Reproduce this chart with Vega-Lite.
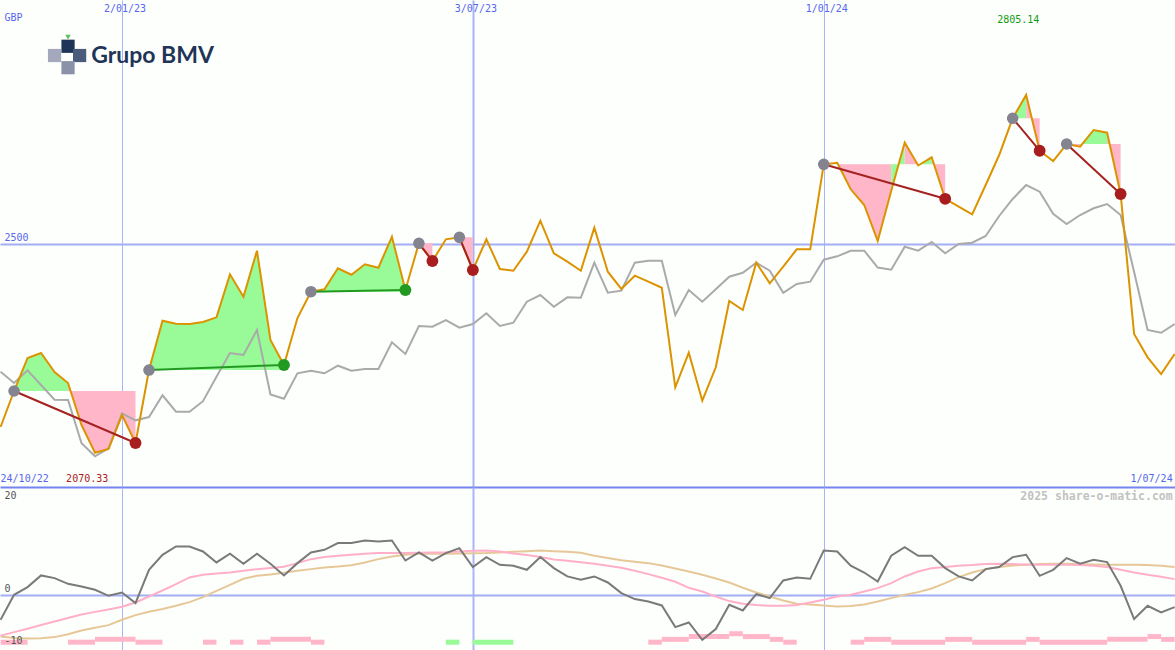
{
  "$schema": "https://vega.github.io/schema/vega-lite/v6.json",
  "padding": 0,
  "background": "#fdfffd",
  "spacing": 0,
  "bounds": "flush",
  "config": {
    "view": {"stroke": null},
    "axis": {"labels": false, "ticks": false, "domain": false, "grid": false},
    "text": {"font": "DejaVu Sans Mono", "fontSize": 10}
  },
  "datasets": {
    "w": [
      {"d":"2022-10-31","p":2123.2,"r":2236.8,"o":-4.75,"s":-7.8,"t":-7.93},
      {"d":"2022-11-07","p":2197.1,"r":2213.5,"o":0,"s":-7.1,"t":-8.2},
      {"d":"2022-11-14","p":2264.9,"r":2239.6,"o":1.46,"s":-6.45,"t":-8.3},
      {"d":"2022-11-21","p":2275.1,"r":2209.4,"o":3.68,"s":-5.75,"t":-8.25},
      {"d":"2022-11-28","p":2236.1,"r":2179.3,"o":3.17,"s":-5.07,"t":-8.05},
      {"d":"2022-12-05","p":2213.5,"r":2178.6,"o":2.09,"s":-4.4,"t":-7.5},
      {"d":"2022-12-12","p":2127.3,"r":2089.7,"o":1.58,"s":-3.74,"t":-6.78},
      {"d":"2022-12-19","p":2070.33,"r":2063.0,"o":0.95,"s":-3.25,"t":-6.25},
      {"d":"2022-12-26","p":2078.0,"r":2079.5,"o":-0.19,"s":-2.79,"t":-5.77},
      {"d":"2023-01-02","p":2147.8,"r":2151.3,"o":0.44,"s":-2.28,"t":-4.75},
      {"d":"2023-01-09","p":2090.3,"r":2136.9,"o":-1.58,"s":-1.46,"t":-3.87},
      {"d":"2023-01-16","p":2240.2,"r":2143.7,"o":4.75,"s":-0.32,"t":-3.23},
      {"d":"2023-01-23","p":2341.5,"r":2188.3,"o":7.6,"s":0.82,"t":-2.72},
      {"d":"2023-01-30","p":2335.3,"r":2154.6,"o":9.19,"s":2.03,"t":-2.09},
      {"d":"2023-02-06","p":2334.7,"r":2154.6,"o":9.19,"s":3.3,"t":-1.39},
      {"d":"2023-02-13","p":2338.8,"r":2176.2,"o":8.24,"s":3.8,"t":-0.44},
      {"d":"2023-02-20","p":2348.4,"r":2226.5,"o":6.15,"s":4.05,"t":0.76},
      {"d":"2023-02-27","p":2436.7,"r":2275.1,"o":7.8,"s":4.24,"t":1.9},
      {"d":"2023-03-06","p":2390.8,"r":2271.0,"o":5.9,"s":4.56,"t":3.04},
      {"d":"2023-03-13","p":2485.2,"r":2322.4,"o":7.8,"s":4.88,"t":3.61},
      {"d":"2023-03-20","p":2301.8,"r":2189.9,"o":5.9,"s":5.08,"t":3.87},
      {"d":"2023-03-27","p":2250.5,"r":2181.3,"o":3.68,"s":5.33,"t":4.18},
      {"d":"2023-04-03","p":2347.0,"r":2233.5,"o":6.02,"s":6.02,"t":4.56},
      {"d":"2023-04-10","p":2401.0,"r":2238.8,"o":8.05,"s":6.78,"t":4.88},
      {"d":"2023-04-17","p":2405.9,"r":2233.5,"o":8.56,"s":7.17,"t":5.2},
      {"d":"2023-04-24","p":2449.1,"r":2249.1,"o":9.83,"s":7.42,"t":5.39},
      {"d":"2023-05-01","p":2435.9,"r":2238.8,"o":9.83,"s":7.6,"t":5.64},
      {"d":"2023-05-08","p":2457.3,"r":2242.3,"o":10.33,"s":7.8,"t":6.15},
      {"d":"2023-05-15","p":2450.3,"r":2242.3,"o":10.14,"s":7.93,"t":6.78},
      {"d":"2023-05-22","p":2513.9,"r":2297.1,"o":10.33,"s":7.95,"t":7.29},
      {"d":"2023-05-29","p":2404.5,"r":2273.1,"o":6.52,"s":7.97,"t":7.6},
      {"d":"2023-06-05","p":2500.4,"r":2330.6,"o":8.05,"s":8.0,"t":7.8},
      {"d":"2023-06-12","p":2464.1,"r":2329.2,"o":6.52,"s":8.05,"t":7.8},
      {"d":"2023-06-19","p":2508.6,"r":2342.9,"o":7.93,"s":8.11,"t":7.8},
      {"d":"2023-06-26","p":2512.7,"r":2327.1,"o":8.88,"s":8.24,"t":7.85},
      {"d":"2023-07-03","p":2445.6,"r":2334.7,"o":5.27,"s":8.37,"t":7.9},
      {"d":"2023-07-10","p":2508.6,"r":2356.7,"o":7.17,"s":8.43,"t":7.93},
      {"d":"2023-07-17","p":2447.6,"r":2330.6,"o":5.71,"s":8.24,"t":8.05},
      {"d":"2023-07-24","p":2444.1,"r":2337.4,"o":5.52,"s":7.86,"t":8.18},
      {"d":"2023-07-31","p":2483.2,"r":2380.5,"o":4.75,"s":7.55,"t":8.3},
      {"d":"2023-08-07","p":2546.8,"r":2394.2,"o":7.17,"s":7.17,"t":8.43},
      {"d":"2023-08-14","p":2479.9,"r":2370.2,"o":5.08,"s":6.72,"t":8.3},
      {"d":"2023-08-21","p":2462.6,"r":2389.5,"o":3.49,"s":6.47,"t":8.18},
      {"d":"2023-08-28","p":2444.1,"r":2388.7,"o":2.85,"s":6.21,"t":7.99},
      {"d":"2023-09-04","p":2532.4,"r":2460.6,"o":3.49,"s":5.9,"t":7.42},
      {"d":"2023-09-11","p":2442.1,"r":2398.9,"o":2.34,"s":5.52,"t":6.98},
      {"d":"2023-09-18","p":2406.6,"r":2403.1,"o":0.32,"s":5.14,"t":6.59},
      {"d":"2023-09-25","p":2433.9,"r":2460.6,"o":-0.82,"s":4.56,"t":6.28},
      {"d":"2023-10-02","p":2421.6,"r":2464.7,"o":-1.27,"s":3.93,"t":6.02},
      {"d":"2023-10-09","p":2409.2,"r":2464.7,"o":-2.03,"s":3.23,"t":5.58},
      {"d":"2023-10-16","p":2204.7,"r":2353.2,"o":-6.15,"s":2.47,"t":5.01},
      {"d":"2023-10-23","p":2275.8,"r":2404.5,"o":-5.27,"s":1.33,"t":4.44},
      {"d":"2023-10-30","p":2177.2,"r":2380.5,"o":-8.56,"s":0.63,"t":3.8},
      {"d":"2023-11-06","p":2245.8,"r":2405.9,"o":-6.52,"s":-0.32,"t":3.1},
      {"d":"2023-11-13","p":2381.9,"r":2431.8,"o":-1.9,"s":-1.2,"t":2.34},
      {"d":"2023-11-20","p":2363.4,"r":2440.0,"o":-2.98,"s":-1.71,"t":1.33},
      {"d":"2023-11-27","p":2460.6,"r":2460.6,"o":0.13,"s":-1.96,"t":0.44},
      {"d":"2023-12-04","p":2418.3,"r":2444.1,"o":-0.63,"s":-2.09,"t":-0.32},
      {"d":"2023-12-11","p":2452.4,"r":2398.9,"o":2.72,"s":-2.09,"t":-1.08},
      {"d":"2023-12-18","p":2488.1,"r":2416.8,"o":3.3,"s":-1.96,"t":-1.71},
      {"d":"2023-12-25","p":2488.1,"r":2421.6,"o":3.04,"s":-1.46,"t":-1.84},
      {"d":"2024-01-01","p":2662.6,"r":2466.7,"o":8.43,"s":-0.95,"t":-2.03},
      {"d":"2024-01-08","p":2665.9,"r":2473.7,"o":8.24,"s":-0.32,"t":-2.22},
      {"d":"2024-01-15","p":2611.3,"r":2485.2,"o":5.52,"s":0.0,"t":-2.15},
      {"d":"2024-01-22","p":2579.1,"r":2485.2,"o":4.24,"s":0.63,"t":-1.84},
      {"d":"2024-01-29","p":2505.1,"r":2450.7,"o":2.53,"s":1.27,"t":-1.27},
      {"d":"2024-02-05","p":2607.8,"r":2446.2,"o":7.42,"s":2.22,"t":-0.63},
      {"d":"2024-02-12","p":2707.4,"r":2493.4,"o":9.07,"s":3.49,"t":0.0},
      {"d":"2024-02-19","p":2660.2,"r":2485.2,"o":7.42,"s":4.44,"t":0.51},
      {"d":"2024-02-26","p":2677.0,"r":2503.1,"o":7.42,"s":5.07,"t":1.2},
      {"d":"2024-03-04","p":2591.8,"r":2479.9,"o":5.08,"s":5.27,"t":2.22},
      {"d":"2024-03-11","p":2575.6,"r":2499.0,"o":3.49,"s":5.52,"t":3.36},
      {"d":"2024-03-18","p":2559.9,"r":2501.6,"o":2.72,"s":5.65,"t":4.24},
      {"d":"2024-03-25","p":2620.1,"r":2515.4,"o":4.88,"s":5.84,"t":4.88},
      {"d":"2024-04-01","p":2681.7,"r":2556.5,"o":5.27,"s":5.9,"t":5.27},
      {"d":"2024-04-08","p":2757.1,"r":2591.4,"o":7.17,"s":5.84,"t":5.58},
      {"d":"2024-04-15","p":2805.14,"r":2620.1,"o":7.6,"s":5.77,"t":5.71},
      {"d":"2024-04-22","p":2690.5,"r":2606.4,"o":3.61,"s":5.71,"t":5.84},
      {"d":"2024-04-29","p":2669.4,"r":2561.2,"o":4.75,"s":5.71,"t":5.9},
      {"d":"2024-05-06","p":2704.3,"r":2540.0,"o":6.98,"s":5.71,"t":5.9},
      {"d":"2024-05-13","p":2698.8,"r":2558.5,"o":5.9,"s":5.65,"t":5.84},
      {"d":"2024-05-20","p":2733.1,"r":2572.3,"o":6.66,"s":5.52,"t":5.77},
      {"d":"2024-05-27","p":2727.5,"r":2581.1,"o":6.22,"s":5.27,"t":5.71},
      {"d":"2024-06-03","p":2601.6,"r":2558.5,"o":1.71,"s":4.75,"t":5.71},
      {"d":"2024-06-10","p":2314.2,"r":2441.5,"o":-4.62,"s":4.24,"t":5.71},
      {"d":"2024-06-17","p":2266.3,"r":2322.4,"o":-2.09,"s":3.8,"t":5.65},
      {"d":"2024-06-24","p":2232.0,"r":2316.8,"o":-3.37,"s":3.42,"t":5.52},
      {"d":"2024-07-01","p":2273.1,"r":2334.7,"o":-2.34,"s":2.98,"t":5.27}
    ],
    "f": [
      {"g":"g1","res":"gain","d":"2022-11-07","p":2197.1,"b":2197.1},
      {"g":"g1","res":"gain","d":"2022-11-14","p":2264.9,"b":2197.1},
      {"g":"g1","res":"gain","d":"2022-11-21","p":2275.1,"b":2197.1},
      {"g":"g1","res":"gain","d":"2022-11-28","p":2236.1,"b":2197.1},
      {"g":"g1","res":"gain","d":"2022-12-05","p":2213.5,"b":2197.1},
      {"g":"l1","res":"loss","d":"2022-12-05","p":2213.5,"b":2197.1},
      {"g":"l1","res":"loss","d":"2022-12-12","p":2127.3,"b":2197.1},
      {"g":"l1","res":"loss","d":"2022-12-19","p":2070.33,"b":2197.1},
      {"g":"l1","res":"loss","d":"2022-12-26","p":2078.0,"b":2197.1},
      {"g":"l1","res":"loss","d":"2023-01-02","p":2147.8,"b":2197.1},
      {"g":"l1","res":"loss","d":"2023-01-09","p":2090.3,"b":2197.1},
      {"g":"g2","res":"gain","d":"2023-01-16","p":2240.2,"b":2240.2},
      {"g":"g2","res":"gain","d":"2023-01-23","p":2341.5,"b":2240.2},
      {"g":"g2","res":"gain","d":"2023-01-30","p":2335.3,"b":2240.2},
      {"g":"g2","res":"gain","d":"2023-02-06","p":2334.7,"b":2240.2},
      {"g":"g2","res":"gain","d":"2023-02-13","p":2338.8,"b":2240.2},
      {"g":"g2","res":"gain","d":"2023-02-20","p":2348.4,"b":2240.2},
      {"g":"g2","res":"gain","d":"2023-02-27","p":2436.7,"b":2240.2},
      {"g":"g2","res":"gain","d":"2023-03-06","p":2390.8,"b":2240.2},
      {"g":"g2","res":"gain","d":"2023-03-13","p":2485.2,"b":2240.2},
      {"g":"g2","res":"gain","d":"2023-03-20","p":2301.8,"b":2240.2},
      {"g":"g2","res":"gain","d":"2023-03-27","p":2250.5,"b":2240.2},
      {"g":"g3","res":"gain","d":"2023-04-10","p":2401.0,"b":2401.0},
      {"g":"g3","res":"gain","d":"2023-04-17","p":2405.9,"b":2401.0},
      {"g":"g3","res":"gain","d":"2023-04-24","p":2449.1,"b":2401.0},
      {"g":"g3","res":"gain","d":"2023-05-01","p":2435.9,"b":2401.0},
      {"g":"g3","res":"gain","d":"2023-05-08","p":2457.3,"b":2401.0},
      {"g":"g3","res":"gain","d":"2023-05-15","p":2450.3,"b":2401.0},
      {"g":"g3","res":"gain","d":"2023-05-22","p":2513.9,"b":2401.0},
      {"g":"g3","res":"gain","d":"2023-05-29","p":2404.5,"b":2401.0},
      {"g":"l2","res":"loss","d":"2023-06-05","p":2500.4,"b":2500.4},
      {"g":"l2","res":"loss","d":"2023-06-12","p":2464.1,"b":2500.4},
      {"g":"l3","res":"loss","d":"2023-06-26","p":2512.7,"b":2512.7},
      {"g":"l3","res":"loss","d":"2023-07-03","p":2445.6,"b":2512.7},
      {"g":"g4","res":"gain","d":"2024-01-01","p":2662.6,"b":2662.6},
      {"g":"g4","res":"gain","d":"2024-01-08","p":2665.9,"b":2662.6},
      {"g":"l4","res":"loss","d":"2024-01-08","p":2665.9,"b":2662.6},
      {"g":"l4","res":"loss","d":"2024-01-15","p":2611.3,"b":2662.6},
      {"g":"l4","res":"loss","d":"2024-01-22","p":2579.1,"b":2662.6},
      {"g":"l4","res":"loss","d":"2024-01-29","p":2505.1,"b":2662.6},
      {"g":"l4","res":"loss","d":"2024-02-05","p":2607.8,"b":2662.6},
      {"g":"g5","res":"gain","d":"2024-02-05","p":2607.8,"b":2662.6},
      {"g":"g5","res":"gain","d":"2024-02-12","p":2707.4,"b":2662.6},
      {"g":"l5","res":"loss","d":"2024-02-12","p":2707.4,"b":2662.6},
      {"g":"l5","res":"loss","d":"2024-02-19","p":2660.2,"b":2662.6},
      {"g":"g6","res":"gain","d":"2024-02-19","p":2660.2,"b":2662.6},
      {"g":"g6","res":"gain","d":"2024-02-26","p":2677.0,"b":2662.6},
      {"g":"l6","res":"loss","d":"2024-02-26","p":2677.0,"b":2662.6},
      {"g":"l6","res":"loss","d":"2024-03-04","p":2591.8,"b":2662.6},
      {"g":"g7","res":"gain","d":"2024-04-08","p":2757.1,"b":2757.1},
      {"g":"g7","res":"gain","d":"2024-04-15","p":2805.14,"b":2757.1},
      {"g":"l7","res":"loss","d":"2024-04-15","p":2805.14,"b":2757.1},
      {"g":"l7","res":"loss","d":"2024-04-22","p":2690.5,"b":2757.1},
      {"g":"l8","res":"loss","d":"2024-05-06","p":2704.3,"b":2704.3},
      {"g":"l8","res":"loss","d":"2024-05-13","p":2698.8,"b":2704.3},
      {"g":"g8","res":"gain","d":"2024-05-13","p":2698.8,"b":2704.3},
      {"g":"g8","res":"gain","d":"2024-05-20","p":2733.1,"b":2704.3},
      {"g":"g8","res":"gain","d":"2024-05-27","p":2727.5,"b":2704.3},
      {"g":"l9","res":"loss","d":"2024-05-27","p":2727.5,"b":2704.3},
      {"g":"l9","res":"loss","d":"2024-06-03","p":2601.6,"b":2704.3}
    ],
    "t": [
      {"id":1,"res":"loss","k":"entry","d":"2022-11-07","p":2197.1},
      {"id":1,"res":"loss","k":"exit","d":"2023-01-09","p":2090.3},
      {"id":2,"res":"gain","k":"entry","d":"2023-01-16","p":2240.2},
      {"id":2,"res":"gain","k":"exit","d":"2023-03-27","p":2250.5},
      {"id":3,"res":"gain","k":"entry","d":"2023-04-10","p":2401.0},
      {"id":3,"res":"gain","k":"exit","d":"2023-05-29","p":2404.5},
      {"id":4,"res":"loss","k":"entry","d":"2023-06-05","p":2500.4},
      {"id":4,"res":"loss","k":"exit","d":"2023-06-12","p":2464.1},
      {"id":5,"res":"loss","k":"entry","d":"2023-06-26","p":2512.7},
      {"id":5,"res":"loss","k":"exit","d":"2023-07-03","p":2445.6},
      {"id":6,"res":"loss","k":"entry","d":"2024-01-01","p":2662.6},
      {"id":6,"res":"loss","k":"exit","d":"2024-03-04","p":2591.8},
      {"id":7,"res":"loss","k":"entry","d":"2024-04-08","p":2757.1},
      {"id":7,"res":"loss","k":"exit","d":"2024-04-22","p":2690.5},
      {"id":8,"res":"loss","k":"entry","d":"2024-05-06","p":2704.3},
      {"id":8,"res":"loss","k":"exit","d":"2024-06-03","p":2601.6}
    ],
    "bars": [
      {"s":"2022-10-31","e":"2022-11-14","lv":1,"sg":"neg"},
      {"s":"2022-12-05","e":"2022-12-19","lv":1,"sg":"neg"},
      {"s":"2022-12-19","e":"2023-01-09","lv":2,"sg":"neg"},
      {"s":"2023-01-09","e":"2023-01-23","lv":1,"sg":"neg"},
      {"s":"2023-02-13","e":"2023-02-20","lv":1,"sg":"neg"},
      {"s":"2023-02-27","e":"2023-03-06","lv":1,"sg":"neg"},
      {"s":"2023-03-13","e":"2023-03-20","lv":1,"sg":"neg"},
      {"s":"2023-03-20","e":"2023-04-10","lv":2,"sg":"neg"},
      {"s":"2023-04-10","e":"2023-04-17","lv":1,"sg":"neg"},
      {"s":"2023-06-19","e":"2023-06-26","lv":1,"sg":"pos"},
      {"s":"2023-07-03","e":"2023-07-24","lv":1,"sg":"pos"},
      {"s":"2023-10-02","e":"2023-10-09","lv":1,"sg":"neg"},
      {"s":"2023-10-09","e":"2023-10-23","lv":2,"sg":"neg"},
      {"s":"2023-10-23","e":"2023-11-13","lv":3,"sg":"neg"},
      {"s":"2023-11-13","e":"2023-11-20","lv":4,"sg":"neg"},
      {"s":"2023-11-20","e":"2023-12-04","lv":3,"sg":"neg"},
      {"s":"2023-12-04","e":"2023-12-11","lv":2,"sg":"neg"},
      {"s":"2023-12-11","e":"2023-12-18","lv":1,"sg":"neg"},
      {"s":"2024-01-15","e":"2024-01-22","lv":1,"sg":"neg"},
      {"s":"2024-01-22","e":"2024-02-05","lv":2,"sg":"neg"},
      {"s":"2024-02-05","e":"2024-03-04","lv":1,"sg":"neg"},
      {"s":"2024-03-04","e":"2024-03-18","lv":2,"sg":"neg"},
      {"s":"2024-03-18","e":"2024-04-15","lv":1,"sg":"neg"},
      {"s":"2024-04-15","e":"2024-04-22","lv":2,"sg":"neg"},
      {"s":"2024-04-22","e":"2024-05-27","lv":1,"sg":"neg"},
      {"s":"2024-05-27","e":"2024-06-17","lv":2,"sg":"neg"},
      {"s":"2024-06-17","e":"2024-06-24","lv":3,"sg":"neg"},
      {"s":"2024-06-24","e":"2024-07-01","lv":2,"sg":"neg"}
    ]
  },
  "vconcat": [
    {
      "width": 1175,
      "height": 487,
      "encoding": {
        "x": {
          "field": "d", "type": "temporal", "title": null,
          "scale": {"type": "utc", "domain": [{"year":2022,"month":10,"date":30,"hours":17,"utc":true},{"year":2024,"month":7,"date":1,"hours":5,"utc":true}]},
          "axis": {
            "orient": "bottom",
            "values": [{"year":2023,"month":1,"date":2,"utc":true},{"year":2023,"month":7,"date":3,"utc":true},{"year":2024,"month":1,"date":1,"utc":true}],
            "grid": true, "gridColor": "#a8b4f6",
            "gridWidth": {"condition": {"test": "time(datum.value) === utc(2023, 6, 3)", "value": 2}, "value": 1},
            "domain": true, "domainColor": "#7584ee", "domainWidth": 2
          }
        }
      },
      "layer": [
        {
          "data": {"name": "f"},
          "transform": [{"filter": "datum.res === 'gain'"}],
          "mark": {"type": "area", "color": "#98fb98", "opacity": 1, "clip": true},
          "encoding": {
            "y": {"field": "p", "type": "quantitative", "title": null, "scale": {"domain": [2000, 3000]},
                  "axis": {"values": [2500], "grid": true, "gridColor": "#a3aef4", "gridWidth": 2}},
            "y2": {"field": "b"},
            "detail": {"field": "g"}
          }
        },
        {
          "data": {"name": "f"},
          "transform": [{"filter": "datum.res === 'loss'"}],
          "mark": {"type": "area", "color": "#ffb6c8", "opacity": 1, "clip": true},
          "encoding": {
            "y": {"field": "p", "type": "quantitative", "title": null, "scale": {"domain": [2000, 3000]}},
            "y2": {"field": "b"},
            "detail": {"field": "g"}
          }
        },
        {
          "data": {"name": "w"},
          "mark": {"type": "line", "color": "#aaaaaa", "strokeWidth": 2, "clip": true},
          "encoding": {"y": {"field": "r", "type": "quantitative", "title": null, "scale": {"domain": [2000, 3000]}}}
        },
        {
          "data": {"name": "w"},
          "mark": {"type": "line", "color": "#dc9300", "strokeWidth": 2, "clip": true},
          "encoding": {"y": {"field": "p", "type": "quantitative", "title": null, "scale": {"domain": [2000, 3000]}}}
        },
        {
          "data": {"name": "t"},
          "transform": [{"filter": "datum.res === 'loss'"}],
          "mark": {"type": "line", "color": "#a52222", "strokeWidth": 2, "clip": true},
          "encoding": {"y": {"field": "p", "type": "quantitative", "title": null, "scale": {"domain": [2000, 3000]}}, "detail": {"field": "id"}}
        },
        {
          "data": {"name": "t"},
          "transform": [{"filter": "datum.res === 'gain'"}],
          "mark": {"type": "line", "color": "#229a22", "strokeWidth": 2, "clip": true},
          "encoding": {"y": {"field": "p", "type": "quantitative", "title": null, "scale": {"domain": [2000, 3000]}}, "detail": {"field": "id"}}
        },
        {
          "data": {"name": "t"},
          "transform": [{"filter": "datum.k === 'entry'"}],
          "mark": {"type": "point", "filled": true, "shape": "circle", "size": 135, "color": "#848490", "opacity": 1},
          "encoding": {"y": {"field": "p", "type": "quantitative", "title": null, "scale": {"domain": [2000, 3000]}}}
        },
        {
          "data": {"name": "t"},
          "transform": [{"filter": "datum.k === 'exit' && datum.res === 'loss'"}],
          "mark": {"type": "point", "filled": true, "shape": "circle", "size": 140, "color": "#a81e1e", "opacity": 1},
          "encoding": {"y": {"field": "p", "type": "quantitative", "title": null, "scale": {"domain": [2000, 3000]}}}
        },
        {
          "data": {"name": "t"},
          "transform": [{"filter": "datum.k === 'exit' && datum.res === 'gain'"}],
          "mark": {"type": "point", "filled": true, "shape": "circle", "size": 140, "color": "#229a22", "opacity": 1},
          "encoding": {"y": {"field": "p", "type": "quantitative", "title": null, "scale": {"domain": [2000, 3000]}}}
        },
        {
          "data": {"values": [
            {"d":"2023-01-02","v":2982,"txt":"2/01/23"},
            {"d":"2023-07-03","v":2982,"txt":"3/07/23"},
            {"d":"2024-01-01","v":2982,"txt":"1/01/24"}
          ]},
          "mark": {"type": "text", "align": "center", "baseline": "middle", "dx": 3, "color": "#5766ee"},
          "encoding": {"y": {"field": "v", "type": "quantitative", "title": null, "scale": {"domain": [2000, 3000]}}, "text": {"field": "txt"}}
        },
        {
          "data": {"values": [
            {"d":"2022-11-02","v":2963,"txt":"GBP"},
            {"d":"2022-11-02","v":2511.3,"txt":"2500"},
            {"d":"2022-10-31","v":2016.4,"txt":"24/10/22"}
          ]},
          "mark": {"type": "text", "align": "left", "baseline": "middle", "color": "#5766ee"},
          "encoding": {"y": {"field": "v", "type": "quantitative", "title": null, "scale": {"domain": [2000, 3000]}}, "text": {"field": "txt"}}
        },
        {
          "data": {"values": [{"d":"2024-06-30","v":2016.4,"txt":"1/07/24"}]},
          "mark": {"type": "text", "align": "right", "baseline": "middle", "color": "#5766ee"},
          "encoding": {"y": {"field": "v", "type": "quantitative", "title": null, "scale": {"domain": [2000, 3000]}}, "text": {"field": "txt"}}
        },
        {
          "data": {"values": [{"d":"2022-12-04","v":2016.4,"txt":"2070.33"}]},
          "mark": {"type": "text", "align": "left", "baseline": "middle", "color": "#a82020"},
          "encoding": {"y": {"field": "v", "type": "quantitative", "title": null, "scale": {"domain": [2000, 3000]}}, "text": {"field": "txt"}}
        },
        {
          "data": {"values": [{"d":"2024-03-31","v":2958.9,"txt":"2805.14"}]},
          "mark": {"type": "text", "align": "left", "baseline": "middle", "color": "#119a11"},
          "encoding": {"y": {"field": "v", "type": "quantitative", "title": null, "scale": {"domain": [2000, 3000]}}, "text": {"field": "txt"}}
        },
        {
          "data": {"values": [
            {"d":"2022-12-05","v":2905,"part":"top"},
            {"d":"2022-11-28","v":2886,"part":"left"},
            {"d":"2022-12-11","v":2886,"part":"right"},
            {"d":"2022-12-05","v":2861,"part":"bottom"}
          ]},
          "mark": {"type": "point", "shape": "square", "filled": true, "size": 175, "opacity": 1},
          "encoding": {
            "y": {"field": "v", "type": "quantitative", "title": null, "scale": {"domain": [2000, 3000]}},
            "color": {"field": "part", "type": "nominal", "legend": null,
                      "scale": {"domain": ["top","left","right","bottom"], "range": ["#1f3557","#a4a8bc","#4b5b7c","#8c91aa"]}}
          }
        },
        {
          "data": {"values": [{"d":"2022-12-05","v":2924,"txt":"mark"}]},
          "mark": {"type": "point", "shape": "triangle-down", "filled": true, "size": 30, "color": "#5fc05f", "opacity": 1},
          "encoding": {"y": {"field": "v", "type": "quantitative", "title": null, "scale": {"domain": [2000, 3000]}}}
        },
        {
          "data": {"values": [{"d":"2022-12-17","v":2870.6,"txt":"Grupo BMV"}]},
          "mark": {"type": "text", "align": "left", "baseline": "alphabetic", "font": "Lato", "fontWeight": "bold", "fontSize": 23, "color": "#1f3557"},
          "encoding": {"y": {"field": "v", "type": "quantitative", "title": null, "scale": {"domain": [2000, 3000]}}, "text": {"field": "txt"}}
        }
      ]
    },
    {
      "width": 1175,
      "height": 163,
      "resolve": {"scale": {"y": "independent"}},
      "layer": [
        {
          "data": {"name": "bars"},
          "transform": [{"filter": "datum.sg === 'neg'"}],
          "mark": {"type": "bar", "color": "#ffb6c8", "opacity": 1, "clip": true},
          "encoding": {
            "x": {"field": "s", "type": "temporal", "title": null,
                  "scale": {"type": "utc", "domain": [{"year":2022,"month":10,"date":30,"hours":17,"utc":true},{"year":2024,"month":7,"date":1,"hours":5,"utc":true}]},
                  "axis": {
                    "values": [{"year":2023,"month":1,"date":2,"utc":true},{"year":2023,"month":7,"date":3,"utc":true},{"year":2024,"month":1,"date":1,"utc":true}],
                    "grid": true, "gridColor": "#a8b4f6",
                    "gridWidth": {"condition": {"test": "time(datum.value) === utc(2023, 6, 3)", "value": 2}, "value": 1}}},
            "x2": {"field": "e"},
            "y": {"field": "lv", "type": "quantitative", "title": null, "scale": {"domain": [0, 54.33], "nice": false}, "axis": null}
          }
        },
        {
          "data": {"name": "bars"},
          "transform": [{"filter": "datum.sg === 'pos'"}],
          "mark": {"type": "bar", "color": "#98fb98", "opacity": 1, "clip": true},
          "encoding": {
            "x": {"field": "s", "type": "temporal", "title": null, "scale": {"type": "utc", "domain": [{"year":2022,"month":10,"date":30,"hours":17,"utc":true},{"year":2024,"month":7,"date":1,"hours":5,"utc":true}]}},
            "x2": {"field": "e"},
            "y": {"field": "lv", "type": "quantitative", "title": null, "scale": {"domain": [0, 54.33], "nice": false}, "axis": null}
          }
        },
        {
          "data": {"name": "w"},
          "mark": {"type": "line", "color": "#e6c898", "strokeWidth": 2, "clip": true},
          "encoding": {
            "x": {"field": "d", "type": "temporal", "title": null, "scale": {"type": "utc", "domain": [{"year":2022,"month":10,"date":30,"hours":17,"utc":true},{"year":2024,"month":7,"date":1,"hours":5,"utc":true}]}},
            "y": {"field": "t", "type": "quantitative", "title": null, "scale": {"domain": [-10.5, 20.5], "nice": false},
                  "axis": {"values": [0], "grid": true, "gridColor": "#a3aef4", "gridWidth": 2}}
          }
        },
        {
          "data": {"name": "w"},
          "mark": {"type": "line", "color": "#ffb0c8", "strokeWidth": 2, "clip": true},
          "encoding": {
            "x": {"field": "d", "type": "temporal", "title": null, "scale": {"type": "utc", "domain": [{"year":2022,"month":10,"date":30,"hours":17,"utc":true},{"year":2024,"month":7,"date":1,"hours":5,"utc":true}]}},
            "y": {"field": "s", "type": "quantitative", "title": null, "scale": {"domain": [-10.5, 20.5], "nice": false}, "axis": null}
          }
        },
        {
          "data": {"name": "w"},
          "mark": {"type": "line", "color": "#7a7a7a", "strokeWidth": 2, "clip": true},
          "encoding": {
            "x": {"field": "d", "type": "temporal", "title": null, "scale": {"type": "utc", "domain": [{"year":2022,"month":10,"date":30,"hours":17,"utc":true},{"year":2024,"month":7,"date":1,"hours":5,"utc":true}]}},
            "y": {"field": "o", "type": "quantitative", "title": null, "scale": {"domain": [-10.5, 20.5], "nice": false}, "axis": null}
          }
        },
        {
          "data": {"values": [
            {"d":"2022-11-02","v":18.79,"txt":"20"},
            {"d":"2022-11-02","v":1.1,"txt":"0"},
            {"d":"2022-11-02","v":-8.79,"txt":"-10"}
          ]},
          "mark": {"type": "text", "align": "left", "baseline": "middle", "color": "#555555"},
          "encoding": {
            "x": {"field": "d", "type": "temporal", "title": null, "scale": {"type": "utc", "domain": [{"year":2022,"month":10,"date":30,"hours":17,"utc":true},{"year":2024,"month":7,"date":1,"hours":5,"utc":true}]}},
            "y": {"field": "v", "type": "quantitative", "title": null, "scale": {"domain": [-10.5, 20.5], "nice": false}, "axis": null},
            "text": {"field": "txt"}
          }
        },
        {
          "data": {"values": [{"d":"2024-06-30","v":18.6,"txt":"2025 share-o-matic.com"}]},
          "mark": {"type": "text", "align": "right", "baseline": "middle", "color": "#c2c2c2", "fontWeight": "bold", "fontSize": 11.5},
          "encoding": {
            "x": {"field": "d", "type": "temporal", "title": null, "scale": {"type": "utc", "domain": [{"year":2022,"month":10,"date":30,"hours":17,"utc":true},{"year":2024,"month":7,"date":1,"hours":5,"utc":true}]}},
            "y": {"field": "v", "type": "quantitative", "title": null, "scale": {"domain": [-10.5, 20.5], "nice": false}, "axis": null},
            "text": {"field": "txt"}
          }
        }
      ]
    }
  ]
}
